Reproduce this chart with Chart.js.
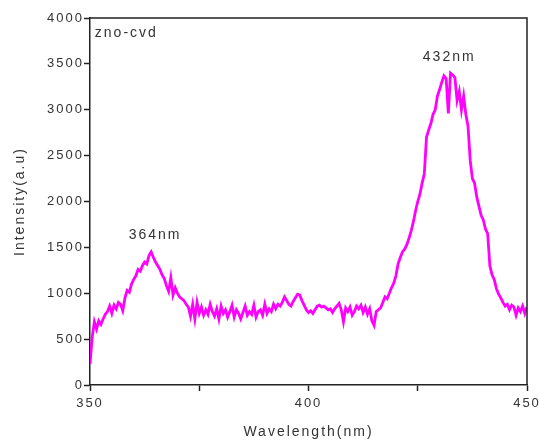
<!DOCTYPE html>
<html>
<head>
<meta charset="utf-8">
<script src="https://cdn.jsdelivr.net/npm/chart.js@4.4.0/dist/chart.umd.min.js"></script>
<style>
  html, body { margin: 0; padding: 0; background: #fff; }
  #wrap { width: 540px; height: 446px; }
</style>
</head>
<body>
<div id="wrap"><canvas id="pl-chart" width="540" height="446"></canvas></div>
<script>
// PL spectrum, 0.5 nm sampling
const wavelength = [
  350, 350.5, 351, 351.5, 352, 352.5, 353, 353.5, 354, 354.5,
  355, 355.5, 356, 356.5, 357, 357.5, 358, 358.5, 359, 359.5,
  360, 360.5, 361, 361.5, 362, 362.5, 363, 363.5, 364, 364.5,
  365, 365.5, 366, 366.5, 367, 367.5, 368, 368.5, 369, 369.5,
  370, 370.5, 371, 371.5, 372, 372.5, 373, 373.5, 374, 374.5,
  375, 375.5, 376, 376.5, 377, 377.5, 378, 378.5, 379, 379.5,
  380, 380.5, 381, 381.5, 382, 382.5, 383, 383.5, 384, 384.5,
  385, 385.5, 386, 386.5, 387, 387.5, 388, 388.5, 389, 389.5,
  390, 390.5, 391, 391.5, 392, 392.5, 393, 393.5, 394, 394.5,
  395, 395.5, 396, 396.5, 397, 397.5, 398, 398.5, 399, 399.5,
  400, 400.5, 401, 401.5, 402, 402.5, 403, 403.5, 404, 404.5,
  405, 405.5, 406, 406.5, 407, 407.5, 408, 408.5, 409, 409.5,
  410, 410.5, 411, 411.5, 412, 412.5, 413, 413.5, 414, 414.5,
  415, 415.5, 416, 416.5, 417, 417.5, 418, 418.5, 419, 419.5,
  420, 420.5, 421, 421.5, 422, 422.5, 423, 423.5, 424, 424.5,
  425, 425.5, 426, 426.5, 427, 427.5, 428, 428.5, 429, 429.5,
  430, 430.5, 431, 431.5, 432, 432.5, 433, 433.5, 434, 434.5,
  435, 435.5, 436, 436.5, 437, 437.5, 438, 438.5, 439, 439.5,
  440, 440.5, 441, 441.5, 442, 442.5, 443, 443.5, 444, 444.5,
  445, 445.5, 446, 446.5, 447, 447.5, 448, 448.5, 449, 449.5,
  450
];
const intensity = [
  230, 520, 690, 610, 700, 660, 720, 770, 800, 860,
  780, 870, 830, 900, 880, 810, 950, 1030, 1010, 1100,
  1150, 1190, 1260, 1240, 1300, 1340, 1320, 1410, 1450, 1390,
  1340, 1300, 1260, 1200, 1160, 1080, 1020, 1170, 980, 1060,
  1000, 960, 940, 920, 880, 850, 750, 880, 720, 900,
  780, 850, 760, 820, 770, 880, 800, 750, 830, 720,
  860, 780, 820, 740, 800, 870, 740, 820, 780, 720,
  790, 860, 760, 800, 770, 870, 740, 800, 820, 760,
  880, 780, 830, 800, 880, 830, 880, 860, 900, 960,
  920, 880, 860, 910, 950, 990, 980, 920, 870, 820,
  790, 810, 780, 820, 860, 870, 850, 860, 840, 820,
  830, 790, 830, 860, 890, 820, 690, 840, 800, 850,
  760, 800, 860, 830, 870, 790, 850, 770, 830, 700,
  650, 800, 820, 840, 900, 960, 940, 1000, 1060, 1110,
  1190, 1320, 1390, 1450, 1480, 1530, 1600, 1680, 1780, 1900,
  2000, 2080, 2200, 2300, 2700, 2780, 2850, 2950, 3000, 3150,
  3220, 3300, 3370, 3340, 2960, 3400, 3380, 3350, 3100, 3200,
  3000, 3150, 2950, 2820, 2450, 2250, 2200, 2050, 1950, 1850,
  1800, 1700, 1650, 1300, 1200, 1150, 1050, 990, 950, 900,
  860, 880, 820, 870, 850, 760, 840, 800, 860, 780,
  850
];

// peak annotations (text, anchor in data units)
const peakNames = ['364nm', '432nm'];
const peakLabelX = [364.9, 432.2];
const peakLabelY = [1635, 3575];
const sampleName = 'zno-cvd';

const FONT = '"Liberation Sans", Arial, sans-serif';
const LETTER_SPACING = '2px';

const points = wavelength.map((w, i) => ({ x: w, y: intensity[i] }));

// frame on top/right plus the free text inside the plot
const frameAndLabels = {
  id: 'frameAndLabels',
  beforeDraw(chart) {
    chart.ctx.letterSpacing = LETTER_SPACING;
  },
  afterDraw(chart) {
    const { ctx, chartArea: a, scales: { x, y } } = chart;
    ctx.save();
    ctx.strokeStyle = '#222';
    ctx.lineWidth = 1.5;
    ctx.beginPath();
    ctx.moveTo(a.left, a.top);
    ctx.lineTo(a.right, a.top);
    ctx.lineTo(a.right, a.bottom);
    ctx.stroke();

    ctx.font = '14px ' + FONT;
    ctx.fillStyle = '#333';
    ctx.textBaseline = 'middle';
    ctx.textAlign = 'center';
    peakNames.forEach((t, i) => {
      ctx.fillText(t, x.getPixelForValue(peakLabelX[i]), y.getPixelForValue(peakLabelY[i]));
    });
    ctx.textAlign = 'left';
    ctx.fillText(sampleName, x.getPixelForValue(351.1), y.getPixelForValue(3840));
    ctx.restore();
  }
};

new Chart(document.getElementById('pl-chart'), {
  type: 'line',
  data: {
    datasets: [{
      data: points,
      borderColor: '#ff00ff',
      borderWidth: 2.8,
      pointRadius: 0,
      tension: 0,
      fill: false
    }]
  },
  options: {
    responsive: false,
    animation: false,
    layout: { padding: { top: 18, right: 13, left: 0, bottom: 0 } },
    plugins: { legend: { display: false }, tooltip: { enabled: false } },
    scales: {
      x: {
        type: 'linear',
        min: 350,
        max: 450,
        afterFit(scale) {
          scale.height = 61;
          scale.paddingLeft = 0;
          scale.paddingRight = 0;
        },
        border: { display: true, color: '#222', width: 1.5 },
        grid: { drawOnChartArea: false, drawTicks: true, tickLength: 6, tickColor: '#222', tickWidth: 1.5 },
        ticks: {
          stepSize: 25,
          autoSkip: false,
          maxRotation: 0,
          padding: 5,
          color: '#333',
          font: { family: FONT, size: 13 },
          callback: v => (v % 50 === 0 ? String(v) : '')
        },
        title: {
          display: true,
          text: 'Wavelength(nm)',
          color: '#333',
          font: { family: FONT, size: 14 },
          padding: { top: 0, bottom: 5 }
        }
      },
      y: {
        min: 0,
        max: 4000,
        afterFit(scale) {
          scale.width = 90;
        },
        border: { display: true, color: '#222', width: 1.5 },
        grid: { drawOnChartArea: false, drawTicks: true, tickLength: 6, tickColor: '#222', tickWidth: 1.5 },
        ticks: {
          stepSize: 500,
          padding: 0,
          color: '#333',
          font: { family: FONT, size: 13 },
          callback: v => String(v)
        },
        title: {
          display: true,
          text: 'Intensity(a.u)',
          color: '#333',
          font: { family: FONT, size: 14 },
          padding: { top: 12, bottom: 0 }
        }
      }
    }
  },
  plugins: [frameAndLabels]
});
</script>
</body>
</html>
